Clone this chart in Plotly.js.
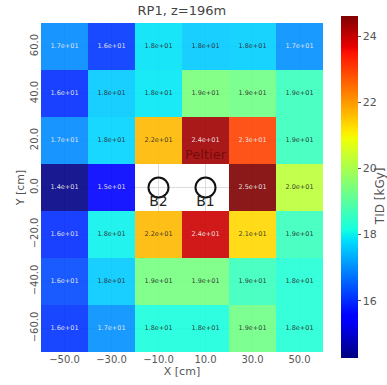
<!DOCTYPE html>
<html>
<head>
<meta charset="utf-8">
<script src="https://cdn.plot.ly/plotly-3.0.1.min.js"></script>
<style>html,body{margin:0;padding:0;background:#fff;}#chart{width:387px;height:385px;}</style>
</head>
<body>
<div id="chart"></div>
<script>
// X and Y cell centres (cm)
const xCats = [-50, -30, -10, 10, 30, 50];
const yCats = [60, 40, 20, 0, -20, -40, -60];
// TID values (kGy), rows top (y=60) to bottom (y=-60); null = no measurement
const row60  = [16.95, 16.1, 17.85, 17.6, 17.65, 17.0];
const row40  = [16.0, 17.6, 17.9, 19.4, 19.3, 18.6];
const row20  = [16.95, 17.7, 21.65, 24.3, 22.95, 18.6];
const row0   = [14.3, 15.5, null, null, 24.6, 20.25];
const rowM20 = [16.0, 18.0, 21.65, 23.9, 21.3, 18.6];
const rowM40 = [16.3, 17.6, 19.35, 19.35, 18.6, 18.3];
const rowM60 = [16.05, 17.0, 18.2, 18.2, 19.3, 18.3];
const zRows = [row60, row40, row20, row0, rowM20, rowM40, rowM60];
// cell labels as printed
const lab60  = ["1.7e+01","1.6e+01","1.8e+01","1.8e+01","1.8e+01","1.7e+01"];
const lab40  = ["1.6e+01","1.8e+01","1.8e+01","1.9e+01","1.9e+01","1.9e+01"];
const lab20  = ["1.7e+01","1.8e+01","2.2e+01","2.4e+01","2.3e+01","1.9e+01"];
const lab0   = ["1.4e+01","1.5e+01","","","2.5e+01","2.0e+01"];
const labM20 = ["1.6e+01","1.8e+01","2.2e+01","2.4e+01","2.1e+01","1.9e+01"];
const labM40 = ["1.6e+01","1.8e+01","1.9e+01","1.9e+01","1.9e+01","1.8e+01"];
const labM60 = ["1.6e+01","1.7e+01","1.8e+01","1.8e+01","1.9e+01","1.8e+01"];
const labRows = [lab60, lab40, lab20, lab0, labM20, labM40, labM60];
// light (1) or dark (0) label text per cell
const light60  = [1,1,0,0,0,1];
const light40  = [1,0,0,0,0,0];
const light20  = [1,0,0,1,1,0];
const light0   = [1,1,0,0,1,0];
const lightM20 = [1,0,0,1,0,0];
const lightM40 = [1,0,0,0,0,0];
const lightM60 = [1,1,0,0,0,0];
const lightRows = [light60, light40, light20, light0, lightM20, lightM40, lightM60];
// beam positions
const beamX = [-10, 10];
const beamY = [0, 0];
const beamNames = ["B2", "B1"];
const peltierX = [10];
const peltierY = [13.5];
const peltierText = ["Peltier"];
const cbTicks = [16, 18, 20, 22, 24];

const jet = [
  [0, 'rgb(0,0,128)'], [0.11, 'rgb(0,0,255)'], [0.125, 'rgb(0,0,255)'],
  [0.34, 'rgb(0,219,255)'], [0.35, 'rgb(0,229,247)'], [0.375, 'rgb(20,255,226)'],
  [0.64, 'rgb(239,255,8)'], [0.65, 'rgb(247,245,0)'], [0.66, 'rgb(255,236,0)'],
  [0.89, 'rgb(255,19,0)'], [0.91, 'rgb(232,0,0)'], [1, 'rgb(128,0,0)']
];

const tx = [], ty = [], tt = [], tc = [];
yCats.forEach((yv, i) => {
  xCats.forEach((xv, j) => {
    if (labRows[i][j] === "") return;
    tx.push(xv); ty.push(yv); tt.push(labRows[i][j]);
    tc.push(lightRows[i][j] ? 'rgba(235,235,235,0.95)' : 'rgba(40,40,40,0.9)');
  });
});

const heat = {
  type: 'heatmap', x: xCats, y: yCats, z: zRows,
  colorscale: jet, zmin: 14.25, zmax: 24.6, opacity: 0.9,
  hoverongaps: false,
  colorbar: {
    x: 1.064, xanchor: 'left', xpad: 0, y: 0.5, yanchor: 'middle', ypad: 0,
    thickness: 17, len: 342, lenmode: 'pixels',
    outlinewidth: 0, ticks: 'outside', ticklen: 3, tickcolor: '#555',
    tickvals: cbTicks,
    tickfont: {family: 'DejaVu Sans', size: 11, color: '#555'}
  }
};
const labels = {
  type: 'scatter', mode: 'text', x: tx, y: ty, text: tt,
  textfont: {family: 'DejaVu Sans', size: 6.5, color: tc},
  hoverinfo: 'skip', showlegend: false
};
const beams = {
  type: 'scatter', mode: 'markers', x: beamX, y: beamY,
  marker: {symbol: 'circle-open', size: 20, color: '#111', line: {width: 2, color: '#111'}},
  showlegend: false, hoverinfo: 'skip'
};
const beamLab = {
  type: 'scatter', mode: 'text', x: beamX, y: beamY.map(v => v - 6.5), text: beamNames,
  textfont: {family: 'DejaVu Sans', size: 14, color: '#222'},
  showlegend: false, hoverinfo: 'skip'
};
const pelt = {
  type: 'scatter', mode: 'text', x: peltierX, y: peltierY, text: peltierText,
  textfont: {family: 'DejaVu Sans', size: 13, color: 'rgba(70,0,0,0.55)'},
  showlegend: false, hoverinfo: 'skip'
};

const layout = {
  width: 387, height: 385,
  margin: {l: 41, r: 64, t: 23, b: 33, autoexpand: false},
  paper_bgcolor: '#fff', plot_bgcolor: '#fff',
  showlegend: false,
  title: {text: 'RP1, z=196m', x: 0.47, xanchor: 'center', y: 0.985, yanchor: 'top',
          font: {family: 'DejaVu Sans', size: 13, color: '#444'}},
  annotations: [{
    text: 'TID [kGy]', xref: 'paper', yref: 'paper', x: 1.2, y: 0.475,
    xanchor: 'center', yanchor: 'middle', textangle: -90, showarrow: false,
    font: {family: 'DejaVu Sans', size: 12, color: '#555'}
  }],
  xaxis: {
    range: [-60, 60], tickvals: xCats, tickformat: '.1f',
    ticks: '', showgrid: true, gridcolor: '#dcdcdc', zeroline: false, showline: false,
    tickfont: {family: 'DejaVu Sans', size: 10, color: '#555'},
    title: {text: 'X [cm]', standoff: 2, font: {family: 'DejaVu Sans', size: 11, color: '#555'}}
  },
  yaxis: {
    range: [-70, 70], tickvals: yCats, tickformat: '.1f', tickangle: -90,
    ticks: '', showgrid: true, gridcolor: '#dcdcdc', zeroline: false, showline: false,
    tickfont: {family: 'DejaVu Sans', size: 10, color: '#555'},
    title: {text: 'Y [cm]', standoff: 2, font: {family: 'DejaVu Sans', size: 11, color: '#555'}}
  }
};

Plotly.newPlot('chart', [heat, labels, pelt, beams, beamLab], layout, {displayModeBar: false, staticPlot: true});
</script>
</body>
</html>
